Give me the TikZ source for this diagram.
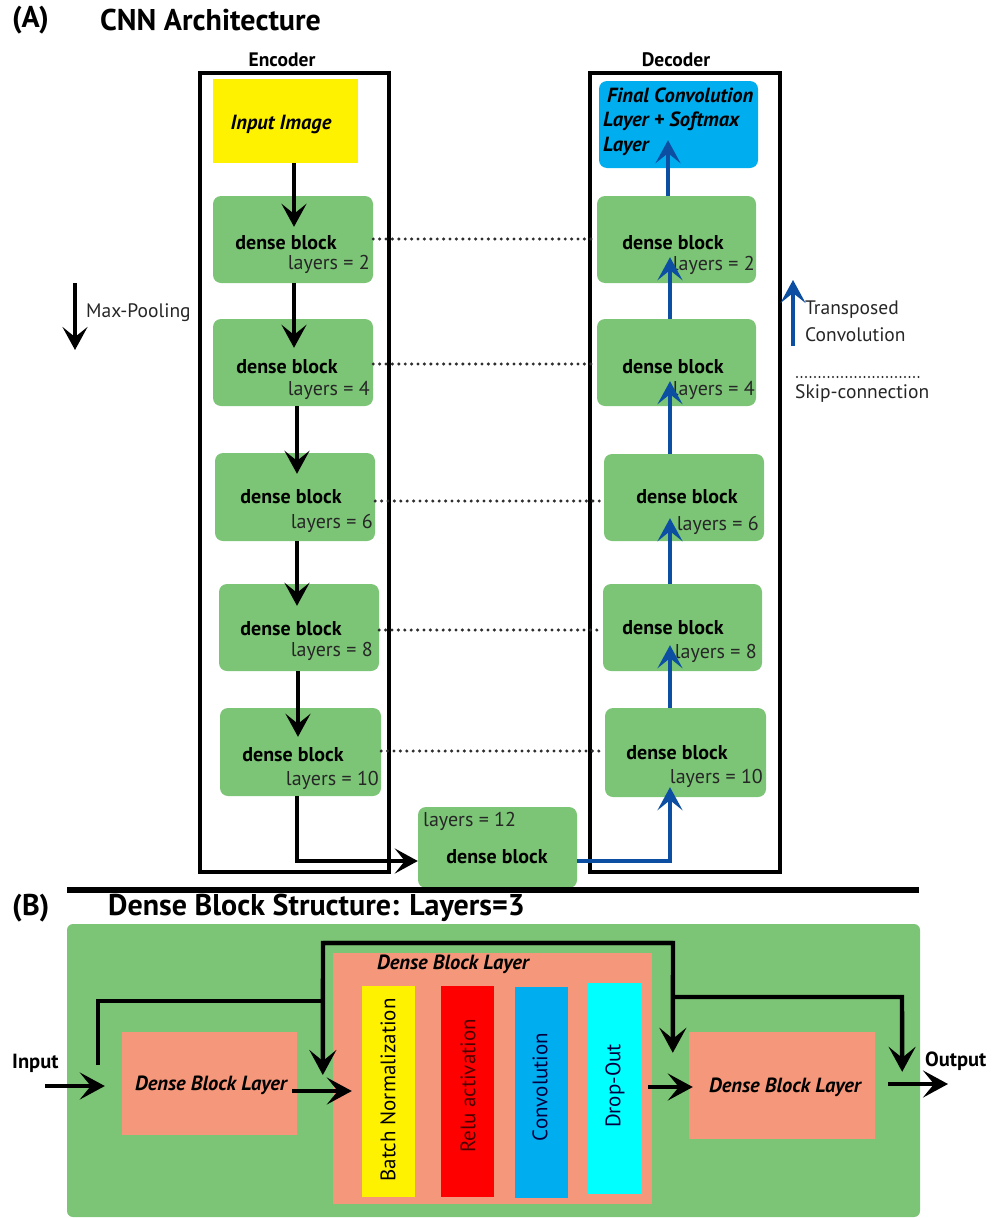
\documentclass[tikz,border=0pt]{standalone}
\usepackage{fontspec}
\setmainfont{PT Sans}
\usetikzlibrary{arrows.meta,calc}
\definecolor{dgreen}{HTML}{7CC576}
\definecolor{salmon}{HTML}{F5977B}
\definecolor{ybar}{HTML}{FFF200}
\definecolor{rbar}{HTML}{FF0000}
\definecolor{bbar}{HTML}{00AEEF}
\definecolor{cbar}{HTML}{00FFFF}
\definecolor{darrow}{HTML}{0B4EA2}
\definecolor{dotc}{HTML}{2E2E2E}
\begin{document}
\begin{tikzpicture}[x=1pt,y=-1pt,
  gblock/.style={fill=dgreen, rounded corners=8pt, inner sep=0pt},
  frame/.style={draw=black, line width=3.8pt},
  dbt/.style={font=\bfseries\fontsize{20}{23}\selectfont, inner sep=0pt},
  lyt/.style={font=\fontsize{20}{23}\selectfont, inner sep=0pt, text=black!85},
  bit/.style={font=\bfseries\itshape\fontsize{20.5}{23}\selectfont, inner sep=0pt},
  legt/.style={font=\fontsize{19.5}{22}\selectfont, inner sep=0pt, text=black!85},
  ttl/.style={font=\bfseries\fontsize{30}{34}\selectfont, inner sep=0pt},
  barrow/.style={draw=black, line width=3.2pt, -{Stealth[length=23pt,width=25pt,inset=10pt]}},
  blarrow/.style={draw=darrow, line width=3.2pt, -{Stealth[length=23pt,width=25pt,inset=10pt]}},
  skipline/.style={draw=dotc, line width=3.4pt, line cap=round, dash pattern=on 0pt off 6.4pt},
  bline/.style={draw=black, line width=4.4pt, line join=miter},
  bbarrow/.style={draw=black, line width=4.4pt, line join=miter, -{Stealth[length=25pt,width=27pt,inset=11pt]}},
  salbox/.style={fill=salmon, inner sep=0pt},
  vbar/.style={inner sep=0pt, minimum width=53, minimum height=211},
  bart/.style={font=\fontsize{21}{24}\selectfont, inner sep=0pt, rotate=90}
]
\useasboundingbox (0,0) rectangle (997,1218);

% ---------- titles ----------
\node[ttl, anchor=west] (tA) at (12,20) {(A)};
\node[ttl, anchor=west] (tCNN) at (100,20) {CNN Architecture};
\node[font=\bfseries\fontsize{19.5}{22}\selectfont, inner sep=0pt] (tEnc) at (282,60) {Encoder};
\node[font=\bfseries\fontsize{19.5}{22}\selectfont, inner sep=0pt] (tDec) at (676,60) {Decoder};

% ---------- frames ----------
\draw[frame] (200,73) rectangle (389,872);
\draw[frame] (590,73) rectangle (780,872);

% ---------- encoder ----------
\node[fill=ybar, inner sep=0pt, minimum width=145, minimum height=84] (inimg) at (285.5,121) {};
\node[bit] (inimgt) at (281,124) {Input Image};

\node[gblock, minimum width=160, minimum height=87] (e1) at (293,239.5) {};
\node[gblock, minimum width=160, minimum height=87] (e2) at (293,362.5) {};
\node[gblock, minimum width=160, minimum height=88] (e3) at (295,497) {};
\node[gblock, minimum width=160, minimum height=87] (e4) at (299,627.5) {};
\node[gblock, minimum width=161, minimum height=88] (e5) at (300.5,752) {};

\node[dbt] (e1t) at (286,243) {dense block};
\node[lyt, anchor=east] (e1l) at (370,264) {layers = 2};
\node[dbt] (e2t) at (287,367) {dense block};
\node[lyt, anchor=east] (e2l) at (370,390) {layers = 4};
\node[dbt] (e3t) at (291,497) {dense block};
\node[lyt, anchor=east] (e3l) at (373,523) {layers = 6};
\node[dbt] (e4t) at (291,629) {dense block};
\node[lyt, anchor=east] (e4l) at (373,651) {layers = 8};
\node[dbt] (e5t) at (293,755) {dense block};
\node[lyt, anchor=east] (e5l) at (379,780) {layers = 10};

% ---------- decoder ----------
\node[fill=bbar, rounded corners=8pt, inner sep=0pt, minimum width=159, minimum height=87] (fin) at (678.5,124.5) {};
\node[bit, anchor=west] (fin1) at (607,95) {Final Convolution};
\node[bit, anchor=west] (fin2) at (603,121) {Layer + Softmax};
\node[bit, anchor=west] (fin3) at (603,146) {Layer};

\node[gblock, minimum width=159, minimum height=87] (d1) at (676.5,239.5) {};
\node[gblock, minimum width=159, minimum height=87] (d2) at (676.5,362.5) {};
\node[gblock, minimum width=160, minimum height=87] (d3) at (684,497.5) {};
\node[gblock, minimum width=159, minimum height=87] (d4) at (682.5,627.5) {};
\node[gblock, minimum width=161, minimum height=89] (d5) at (685.5,752.5) {};

\node[dbt] (d1t) at (673,243) {dense block};
\node[lyt, anchor=east] (d1l) at (755,265) {layers = 2};
\node[dbt] (d2t) at (673,367) {dense block};
\node[lyt, anchor=east] (d2l) at (755,390) {layers = 4};
\node[dbt] (d3t) at (687,497) {dense block};
\node[lyt, anchor=east] (d3l) at (759,525) {layers = 6};
\node[dbt] (d4t) at (673,628) {dense block};
\node[lyt, anchor=east] (d4l) at (757,653) {layers = 8};
\node[dbt] (d5t) at (677,753) {dense block};
\node[lyt, anchor=east] (d5l) at (763,778) {layers = 10};

% ---------- bottleneck ----------
\node[gblock, minimum width=159, minimum height=81] (bot) at (497.5,847.5) {};
\node[lyt, anchor=west] (botl) at (423,821) {layers = 12};
\node[dbt] (bott) at (497,857) {dense block};

% ---------- skip connections ----------
\draw[skipline] (e1.east |- 0,239) -- (d1.west |- 0,239);
\draw[skipline] (e2.east |- 0,364) -- (d2.west |- 0,364);
\draw[skipline] (e3.east |- 0,501) -- (d3.west |- 0,501);
\draw[skipline] (e4.east |- 0,630) -- (d4.west |- 0,630);
\draw[skipline] (e5.east |- 0,751) -- (d5.west |- 0,751);

% ---------- encoder arrows ----------
\draw[barrow] (inimg.south -| 294,0) -- ($(e1.north -| 294,0)+(0,31)$);
\draw[barrow] (e1.south -| 294,0) -- ($(e2.north -| 294,0)+(0,29)$);
\draw[barrow] (e2.south -| 297,0) -- ($(e3.north -| 297,0)+(0,21)$);
\draw[barrow] (e3.south -| 297,0) -- ($(e4.north -| 297,0)+(0,22)$);
\draw[barrow] (e4.south -| 298,0) -- ($(e5.north -| 298,0)+(0,29)$);
\draw[barrow, line join=miter] (e5.south -| 297,0) -- (297,861) -- (bot.west |- 0,861);

% ---------- decoder arrows ----------
\draw[blarrow, line join=miter] (bot.east |- 0,861) -- (670,861) -- ($(d5.south -| 670,0)+(0,-10)$);
\draw[blarrow] (d5.north -| 670,0) -- ($(d4.south -| 670,0)+(0,-26)$);
\draw[blarrow] (d4.north -| 670,0) -- ($(d3.south -| 670,0)+(0,-23)$);
\draw[blarrow] (d3.north -| 670,0) -- ($(d2.south -| 670,0)+(0,-25)$);
\draw[blarrow] (d2.north -| 670,0) -- ($(d1.south -| 670,0)+(0,-26)$);
\draw[blarrow] (d1.north -| 668,0) -- ($(fin.south -| 668,0)+(0,-28)$);

% ---------- legend ----------
\coordinate (mp1) at (75,283);
\coordinate (mp2) at (75,350);
\draw[barrow] (mp1) -- (mp2);
\node[legt, anchor=west] (mpt) at (86,313) {Max-Pooling};
\coordinate (tc1) at (793,346);
\coordinate (tc2) at (793,280);
\draw[blarrow] (tc1) -- (tc2);
\node[legt, anchor=west] (tct1) at (805,310) {Transposed};
\node[legt, anchor=west] (tct2) at (805,335) {Convolution};
\coordinate (sk1) at (797,377);
\coordinate (sk2) at (920,377);
\draw[skipline, line width=2.4pt, dash pattern=on 0pt off 4.5pt] (sk1) -- (sk2);
\node[legt, anchor=west] (skt) at (795,394) {Skip-connection};

% ---------- separator ----------
\coordinate (sepL) at (67,890);
\coordinate (sepR) at (919,890);
\draw[line width=5.5pt] (sepL) -- (sepR);

% ---------- part B ----------
\node[ttl, anchor=west] (tB) at (12,908) {(B)};
\node[ttl, anchor=west] (tDBS) at (108,908) {Dense Block Structure: Layers=3};

\node[fill=dgreen, rounded corners=6pt, inner sep=0pt, minimum width=853, minimum height=293] (big) at (493.5,1070.5) {};

\node[salbox, minimum width=175, minimum height=103] (l1) at (209.5,1083.5) {};
\node[bit] (l1t) at (211,1085) {Dense Block Layer};

\node[salbox, minimum width=319, minimum height=251] (m) at (492.5,1078.5) {};
\node[bit] (mt) at (453,964) {Dense Block Layer};

\node[vbar, fill=ybar] (yb) at (388.5,1091.5) {};
\node[vbar, fill=rbar] (rb) at (467,1091.5) {};
\node[vbar, fill=bbar] (bb) at (541.5,1092) {};
\node[vbar, fill=cbar, minimum width=54] (cb) at (615,1088.5) {};
\node[bart] (ybt) at (388,1090) {Batch Normalization};
\node[bart, text=black!70!red] (rbt) at (468,1086) {Relu activation};
\node[bart, text=black!75!blue] (bbt) at (540,1087) {Convolution};
\node[bart, text=black!75!blue] (cbt) at (615,1086) {Drop-Out};

\node[salbox, minimum width=186, minimum height=107] (r1) at (782,1085.5) {};
\node[bit] (r1t) at (785,1087) {Dense Block Layer};

\node[font=\bfseries\fontsize{20.5}{23}\selectfont, inner sep=0pt, anchor=west] (inpt) at (12,1063) {Input};
\node[font=\bfseries\fontsize{20.5}{23}\selectfont, inner sep=0pt, anchor=west] (outt) at (925,1061) {Output};

\coordinate (inS) at (45,1086);
\draw[bbarrow] (inS) -- ($(l1.west |- inS)+(-17,0)$);
\draw[bbarrow] ($(l1.east |- 0,1091)+(-5,0)$) -- ($(m.west |- 0,1091)+(19,0)$);
\draw[bbarrow] ($(m.east |- 0,1087)+(-4,0)$) -- ($(r1.west |- 0,1087)+(4,0)$);
\coordinate (outE) at (948,1084);
\draw[bbarrow] ($(r1.east |- outE)+(13,0)$) -- (outE);

\coordinate (s1) at (98,1065);
\coordinate (s2) at (98,1001);
\coordinate (s3) at (323,1001);
\coordinate (s4) at (323,943);
\coordinate (s5) at (673,943);
\coordinate (s6) at (673,997);
\coordinate (s7) at (902,997);
\draw[bline] (s1) -- (s2) -- (s3);
\draw[bbarrow] (s5) -- (s4) -- ($(m.west |- 0,1075)+(-10,0)$);
\draw[bbarrow] (s4) -- (s5) -- ($(r1.north west)+(-16,21)$);
\draw[bbarrow] (s6) -- (s7) -- ($(r1.north east)+(27,40)$);
\end{tikzpicture}
\end{document}
